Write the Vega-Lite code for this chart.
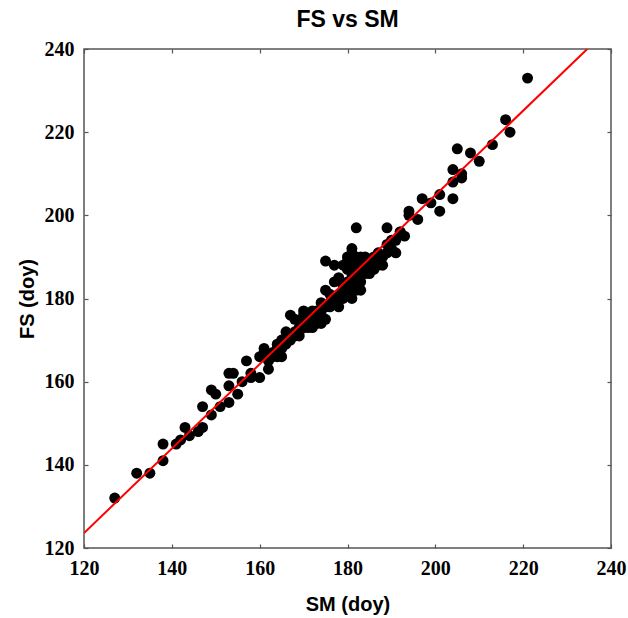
{
  "$schema": "https://vega.github.io/schema/vega-lite/v6.json",
  "width": 527,
  "height": 499,
  "autosize": "none",
  "padding": {"left": 84, "top": 49, "right": 17, "bottom": 70},
  "background": "white",
  "title": {"text": "FS vs SM", "font": "Liberation Sans", "fontSize": 23, "fontWeight": "bold", "color": "black", "offset": 7},
  "config": {
    "view": {"stroke": "#555555", "strokeWidth": 1.5},
    "axis": {"domain": false, "grid": false, "labelFlush": false, "labelFont": "Liberation Sans Narrow", "labelFontSize": 20, "labelFontWeight": "bold", "labelColor": "black", "titleFont": "Liberation Sans", "titleFontSize": 20, "titleFontWeight": "bold", "titleColor": "black", "tickColor": "#555555", "tickSize": -4, "tickWidth": 1.2}
  },
  "datasets": {
    "pts": [
      {"sm":127,"fs":132},{"sm":132,"fs":138},{"sm":135,"fs":138},{"sm":138,"fs":141},{"sm":138,"fs":145},
      {"sm":141,"fs":145},{"sm":142,"fs":146},{"sm":143,"fs":149},{"sm":144,"fs":147},{"sm":146,"fs":148},
      {"sm":147,"fs":149},{"sm":147,"fs":154},{"sm":149,"fs":158},{"sm":150,"fs":157},{"sm":149,"fs":152},
      {"sm":151,"fs":154},{"sm":153,"fs":155},{"sm":153,"fs":159},{"sm":155,"fs":157},{"sm":154,"fs":162},
      {"sm":157,"fs":165},{"sm":158,"fs":162},{"sm":160,"fs":166},{"sm":160,"fs":161},{"sm":161,"fs":168},
      {"sm":161,"fs":167},{"sm":164,"fs":168},{"sm":164,"fs":166},{"sm":165,"fs":170},{"sm":166,"fs":172},
      {"sm":169,"fs":171},{"sm":168,"fs":175},{"sm":170,"fs":177},{"sm":172,"fs":173},{"sm":175,"fs":175},
      {"sm":175,"fs":182},{"sm":177,"fs":184},{"sm":178,"fs":178},{"sm":175,"fs":189},{"sm":177,"fs":188},
      {"sm":181,"fs":191},{"sm":182,"fs":197},{"sm":189,"fs":197},{"sm":192,"fs":196},{"sm":191,"fs":194},
      {"sm":191,"fs":191},{"sm":189,"fs":193},{"sm":188,"fs":188},{"sm":186,"fs":189},{"sm":184,"fs":189},
      {"sm":194,"fs":201},{"sm":196,"fs":199},{"sm":197,"fs":204},{"sm":181,"fs":185},{"sm":182,"fs":182},
      {"sm":174,"fs":176},{"sm":174,"fs":179},{"sm":177,"fs":179},{"sm":170,"fs":175},{"sm":167,"fs":176},
      {"sm":173,"fs":174},{"sm":171,"fs":173},{"sm":179,"fs":182},{"sm":180,"fs":184},{"sm":183,"fs":188},
      {"sm":183,"fs":182},{"sm":181,"fs":180},{"sm":184,"fs":186},{"sm":181,"fs":186},{"sm":184,"fs":190},
      {"sm":187,"fs":188},{"sm":189,"fs":191},{"sm":221,"fs":233},{"sm":216,"fs":223},{"sm":217,"fs":220},
      {"sm":213,"fs":217},{"sm":210,"fs":213},{"sm":208,"fs":215},{"sm":205,"fs":216},{"sm":206,"fs":210},
      {"sm":206,"fs":209},{"sm":204,"fs":211},{"sm":204,"fs":208},{"sm":204,"fs":204},{"sm":201,"fs":205},
      {"sm":201,"fs":201},{"sm":199,"fs":203},{"sm":194,"fs":200},{"sm":192,"fs":196},
      {"sm":163,"fs":166},{"sm":163,"fs":167},{"sm":165,"fs":168},{"sm":166,"fs":169},{"sm":167,"fs":170},
      {"sm":168,"fs":171},{"sm":169,"fs":172},{"sm":170,"fs":173},{"sm":171,"fs":174},{"sm":172,"fs":175},
      {"sm":173,"fs":176},{"sm":174,"fs":177},{"sm":175,"fs":178},{"sm":176,"fs":179},{"sm":177,"fs":180},
      {"sm":178,"fs":181},{"sm":179,"fs":183},{"sm":180,"fs":183},{"sm":181,"fs":184},{"sm":182,"fs":185},
      {"sm":183,"fs":186},{"sm":184,"fs":187},{"sm":185,"fs":189},{"sm":186,"fs":190},{"sm":187,"fs":190},
      {"sm":180,"fs":187},{"sm":181,"fs":188},{"sm":181,"fs":189},{"sm":182,"fs":189},{"sm":180,"fs":189},
      {"sm":181,"fs":183},{"sm":182,"fs":186},{"sm":183,"fs":184},{"sm":185,"fs":187},{"sm":176,"fs":181},
      {"sm":174,"fs":174},{"sm":172,"fs":177},{"sm":171,"fs":175},{"sm":169,"fs":173},{"sm":167,"fs":171},
      {"sm":166,"fs":170},{"sm":164,"fs":169},{"sm":162,"fs":165},{"sm":162,"fs":163},{"sm":165,"fs":166},
      {"sm":168,"fs":172},{"sm":170,"fs":176},{"sm":173,"fs":177},{"sm":176,"fs":178},{"sm":178,"fs":180},
      {"sm":179,"fs":180},{"sm":180,"fs":182},{"sm":182,"fs":187},{"sm":184,"fs":188},{"sm":185,"fs":186},
      {"sm":186,"fs":187},{"sm":188,"fs":190},{"sm":190,"fs":192},{"sm":190,"fs":194},{"sm":193,"fs":195},
      {"sm":187,"fs":191},{"sm":178,"fs":185},{"sm":179,"fs":188},{"sm":180,"fs":190},{"sm":181,"fs":192},
      {"sm":182,"fs":190},{"sm":183,"fs":190},{"sm":153,"fs":162},{"sm":158,"fs":161},{"sm":156,"fs":160}
    ],
    "fit": [{"sm":120,"fs":123.6},{"sm":234.6,"fs":240}]
  },
  "layer": [
    {
      "data": {"name": "pts"},
      "mark": {"type": "circle", "size": 120, "color": "black", "opacity": 1},
      "encoding": {
        "x": {"field": "sm", "type": "quantitative", "scale": {"domain": [120, 240], "nice": false, "zero": false}, "axis": {"title": "SM (doy)", "values": [120,140,160,180,200,220,240], "labelPadding": 14, "titlePadding": 16}},
        "y": {"field": "fs", "type": "quantitative", "scale": {"domain": [120, 240], "nice": false, "zero": false}, "axis": {"title": "FS (doy)", "values": [120,140,160,180,200,220,240], "labelPadding": 14, "titlePadding": 7}}
      }
    },
    {
      "data": {"name": "fit"},
      "mark": {"type": "line", "color": "#ff0000", "strokeWidth": 2, "clip": true},
      "encoding": {
        "x": {"field": "sm", "type": "quantitative", "axis": {"orient": "top", "labels": false, "title": null, "values": [120,140,160,180,200,220,240]}},
        "y": {"field": "fs", "type": "quantitative", "axis": {"orient": "right", "labels": false, "title": null, "values": [120,140,160,180,200,220,240]}}
      }
    }
  ],
  "resolve": {"axis": {"x": "independent", "y": "independent"}}
}
